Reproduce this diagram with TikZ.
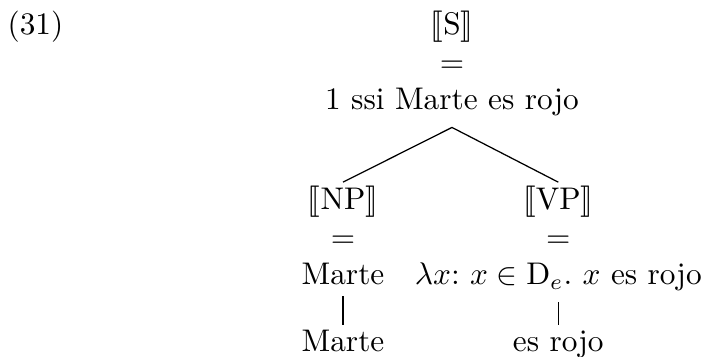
\documentclass[tikz,border=0pt]{standalone}
\usepackage{amsmath, amssymb}
\usepackage{stmaryrd}
\usepackage{xcolor}

\tikzset{
    den/.style={align=center, anchor=base},
    leaf/.style={anchor=base, text height=6.8pt, inner ysep=1.5pt}
}

\begin{document}
\frenchspacing
\begin{tikzpicture}
    \useasboundingbox (0,0) rectangle (7.895,4.009);

    % Example number
    \node[anchor=base west, inner sep=0pt] (num) at (0.079,3.616) {(31)};

    % Denotations (base = last line)
    \node[den] (S) at (5.076,2.774) {$\llbracket$S$\rrbracket$\\ $=$\\ 1 ssi Marte es rojo};
    \node[den] (NP) at (3.852,0.809) {$\llbracket$NP$\rrbracket$\\ $=$\\ Marte};
    \node[den] (VP) at (6.27,0.809) {$\llbracket$VP$\rrbracket$\\ $=$\\ $\lambda x$: $x \in \mathrm{D}_e$. $x$ es rojo};

    % Leaves
    \node[leaf] (marte) at (3.852,0.056) {Marte};
    \node[leaf] (rojo) at (6.27,0.056) {es rojo};

    % Branches
    \draw (S.south) -- ([yshift=-2.2pt]NP.north);
    \draw (S.south) -- ([yshift=-2.2pt]VP.north);
    \draw (NP.south) -- (marte.north);
    \draw (VP.south) -- (rojo.north);
\end{tikzpicture}
\end{document}
